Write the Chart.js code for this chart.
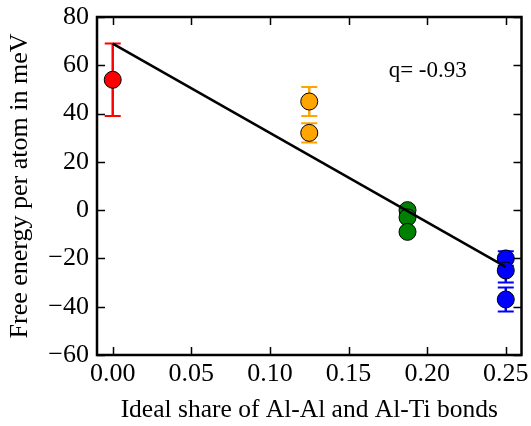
<!DOCTYPE html>
<html>
<head>
<meta charset="utf-8">
<script src="https://cdn.jsdelivr.net/npm/chart.js@4.4.1/dist/chart.umd.min.js"></script>
<style>
  html, body { margin: 0; padding: 0; background: #fff; }
  #wrap { width: 531px; height: 426px; }
</style>
</head>
<body>
<div id="wrap"><canvas id="chart"></canvas></div>
<script>
// bond share per structure group
const redX = [0];
const redY = [54];
const redErr = [15];

const orangeX = [0.125, 0.125];
const orangeY = [45, 32];
const orangeErr = [6, 4];

const greenX = [0.1875, 0.1875, 0.1875];
const greenY = [0, -3, -9];
const greenErr = [1, 1, 1];

const blueX = [0.25, 0.25, 0.25];
const blueY = [-20, -25, -37];
const blueErr = [3, 5, 5];

// linear fit
const fitX = [0, 0.25];
const fitY = [69, -23.5];
const fitLabel = 'q= -0.93';

const xTicks = [0, 0.05, 0.10, 0.15, 0.20, 0.25];
const xTickLabels = ['0.00', '0.05', '0.10', '0.15', '0.20', '0.25'];
const yTicks = [-60, -40, -20, 0, 20, 40, 60, 80];

const FONT = '"Liberation Serif", "Times New Roman", serif';

function pts(xs, ys) {
  return xs.map((x, i) => ({ x: x, y: ys[i] }));
}

function group(color, xs, ys, errs) {
  return {
    type: 'scatter',
    data: pts(xs, ys),
    errors: errs,
    backgroundColor: color,
    borderColor: '#000',
    borderWidth: 1,
    pointRadius: 8.5,
    pointHoverRadius: 8.5,
    order: 1
  };
}

// vertical error bars with caps, drawn under the markers
const errorBars = {
  id: 'errorBars',
  beforeDatasetsDraw(chart) {
    const ctx = chart.ctx;
    const xs = chart.scales.x, ys = chart.scales.y;
    chart.data.datasets.forEach(ds => {
      if (!ds.errors) return;
      ctx.save();
      ctx.strokeStyle = ds.backgroundColor;
      ds.data.forEach((p, i) => {
        const e = ds.errors[i];
        const px = xs.getPixelForValue(p.x);
        const top = ys.getPixelForValue(p.y + e);
        const bot = ys.getPixelForValue(p.y - e);
        ctx.lineWidth = 2.5;
        ctx.beginPath();
        ctx.moveTo(px, top);
        ctx.lineTo(px, bot);
        ctx.stroke();
        ctx.lineWidth = 2;
        ctx.beginPath();
        ctx.moveTo(px - 8, top);
        ctx.lineTo(px + 8, top);
        ctx.moveTo(px - 8, bot);
        ctx.lineTo(px + 8, bot);
        ctx.stroke();
      });
      ctx.restore();
    });
  }
};

// box frame, inward tick marks on all four sides, and the fit label
const frame = {
  id: 'frame',
  afterDraw(chart) {
    const ctx = chart.ctx;
    const a = chart.chartArea;
    const xs = chart.scales.x, ys = chart.scales.y;
    ctx.save();
    ctx.strokeStyle = '#000';
    ctx.lineWidth = 1.5;
    ctx.beginPath();
    xTicks.forEach(v => {
      const px = Math.round(xs.getPixelForValue(v)) + 0.5;
      ctx.moveTo(px, a.bottom);
      ctx.lineTo(px, a.bottom - 8);
      ctx.moveTo(px, a.top);
      ctx.lineTo(px, a.top + 8);
    });
    yTicks.forEach(v => {
      const py = Math.round(ys.getPixelForValue(v)) + 0.5;
      ctx.moveTo(a.left, py);
      ctx.lineTo(a.left + 8, py);
      ctx.moveTo(a.right, py);
      ctx.lineTo(a.right - 8, py);
    });
    ctx.stroke();
    ctx.lineWidth = 2.5;
    ctx.strokeRect(a.left, a.top, a.right - a.left, a.bottom - a.top);

    ctx.fillStyle = '#000';
    ctx.font = '23px ' + FONT;
    ctx.textAlign = 'left';
    ctx.textBaseline = 'middle';
    ctx.fillText(fitLabel, xs.getPixelForValue(0.1755), ys.getPixelForValue(57.5));
    ctx.restore();
  }
};

new Chart(document.getElementById('chart'), {
  data: {
    datasets: [
      {
        type: 'line',
        data: pts(fitX, fitY),
        borderColor: '#000',
        borderWidth: 2.5,
        pointRadius: 0,
        fill: false,
        order: 0
      },
      group('#ff0000', redX, redY, redErr),
      group('#ffa500', orangeX, orangeY, orangeErr),
      group('#008000', greenX, greenY, greenErr),
      group('#0000ff', blueX, blueY, blueErr)
    ]
  },
  options: {
    responsive: true,
    maintainAspectRatio: false,
    animation: false,
    layout: { padding: { top: 17, right: 7, left: 0, bottom: 0 } },
    plugins: { legend: { display: false }, tooltip: { enabled: false } },
    scales: {
      x: {
        type: 'linear',
        min: -0.01,
        max: 0.26,
        afterBuildTicks: s => { s.ticks = xTicks.map(v => ({ value: v })); },
        afterFit: s => { s.height = 71; s.paddingLeft = 0; s.paddingRight = 0; },
        grid: { display: false, drawTicks: false },
        border: { display: false },
        ticks: {
          padding: 4,
          color: '#000',
          font: { family: FONT, size: 26 },
          callback: (v, i) => xTickLabels[i]
        },
        title: {
          display: true,
          text: 'Ideal share of Al-Al and Al-Ti bonds',
          color: '#000',
          font: { family: FONT, size: 25.5 },
          padding: { top: 0, bottom: 0 }
        }
      },
      y: {
        type: 'linear',
        min: -60,
        max: 80,
        afterBuildTicks: s => { s.ticks = yTicks.map(v => ({ value: v })); },
        afterFit: s => { s.width = 97; s.paddingTop = 0; s.paddingBottom = 0; },
        grid: { display: false, drawTicks: false },
        border: { display: false },
        ticks: {
          padding: 8,
          color: '#000',
          font: { family: FONT, size: 26 },
          callback: v => (v < 0 ? '\u2212' + Math.abs(v) : String(v))
        },
        title: {
          display: true,
          text: 'Free energy per atom in meV',
          color: '#000',
          font: { family: FONT, size: 26 },
          padding: { top: 5, bottom: 0 }
        }
      }
    }
  },
  plugins: [errorBars, frame]
});
</script>
</body>
</html>
